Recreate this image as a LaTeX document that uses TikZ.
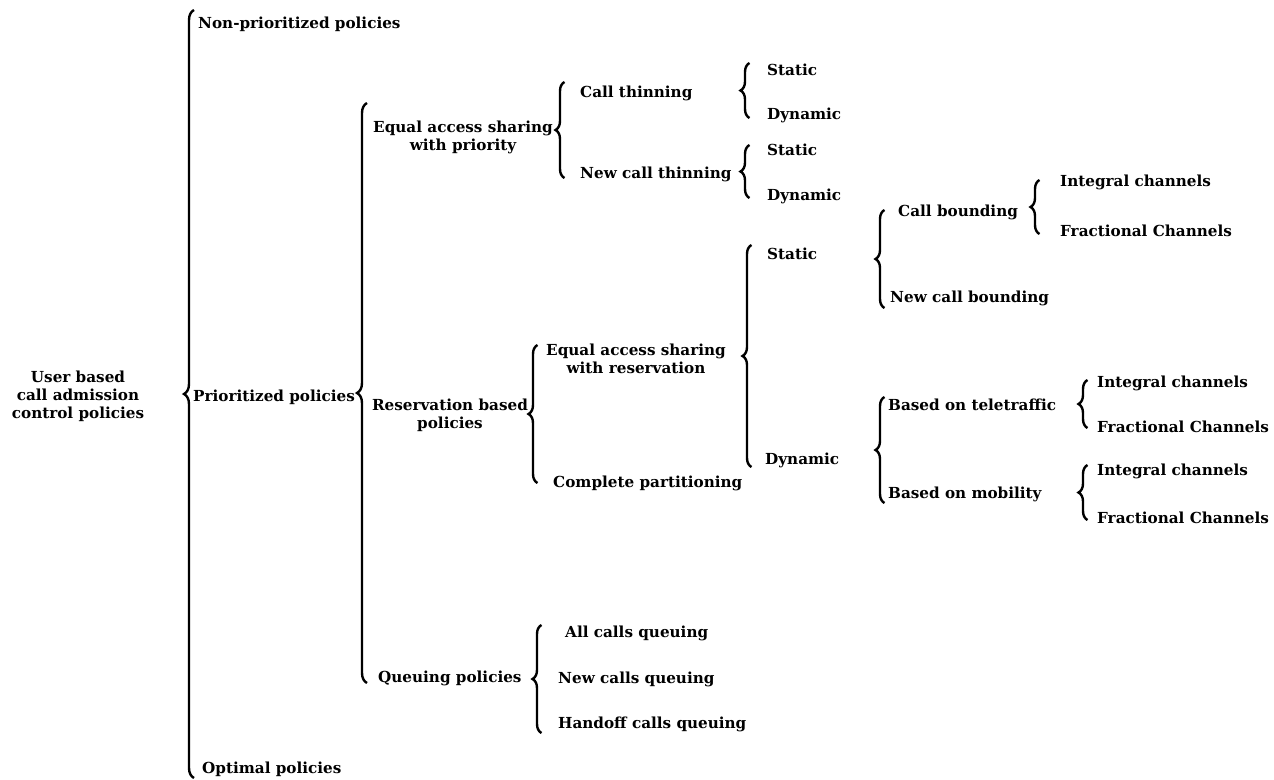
\documentclass[tikz,border=0pt]{standalone}
\usepackage{fontspec}
\setmainfont{DejaVu Serif}
\usetikzlibrary{decorations.pathreplacing}
\tikzset{
  lbl/.style={anchor=mid west, inner sep=0pt, yshift=-3pt, font=\fontsize{15.2}{18}\selectfont\bfseries},
  blk/.style={anchor=center, inner sep=0pt, align=center, yshift=-1.5pt, font=\fontsize{15.2}{18}\selectfont\bfseries},
  brc/.style={decorate, decoration={brace, amplitude=#1}, line width=2.4pt},
  brc/.default=9pt
}
\begin{document}
\begin{tikzpicture}[x=1pt,y=-1pt]
\useasboundingbox (0,0) rectangle (1274,779);
% nodes
\node[blk] (root) at (78,395) {User based\\call admission\\control policies};
\node[lbl] (np) at (198,23) {Non-prioritized policies};
\node[lbl] (pp) at (193,396) {Prioritized policies};
\node[lbl] (op) at (202,768) {Optimal policies};
\node[blk] (easp) at (463,136) {Equal access sharing\\with priority};
\node[blk] (rbp) at (450,414) {Reservation based\\policies};
\node[lbl] (qp) at (378,677) {Queuing policies};
\node[lbl] (ct) at (580,92) {Call thinning};
\node[lbl] (nct) at (580,173) {New call thinning};
\node[lbl] (cts) at (767,70) {Static};
\node[lbl] (ctd) at (767,114) {Dynamic};
\node[lbl] (ncts) at (767,150) {Static};
\node[lbl] (nctd) at (767,195) {Dynamic};
\node[blk] (easr) at (636,357) {Equal access sharing\\with reservation};
\node[lbl] (cp) at (553,482) {Complete partitioning};
\node[lbl] (rs) at (767,254) {Static};
\node[lbl] (rd) at (765,459) {Dynamic};
\node[lbl] (cb) at (898,211) {Call bounding};
\node[lbl] (ncb) at (890,297) {New call bounding};
\node[lbl] (cbi) at (1060,181) {Integral channels};
\node[lbl] (cbf) at (1060,231) {Fractional Channels};
\node[lbl] (tt) at (888,405) {Based on teletraffic};
\node[lbl] (mob) at (888,493) {Based on mobility};
\node[lbl] (tti) at (1097,382) {Integral channels};
\node[lbl] (ttf) at (1097,427) {Fractional Channels};
\node[lbl] (mbi) at (1097,470) {Integral channels};
\node[lbl] (mbf) at (1097,518) {Fractional Channels};
\node[lbl] (aq) at (565,632) {All calls queuing};
\node[lbl] (nq) at (558,678) {New calls queuing};
\node[lbl] (hq) at (558,723) {Handoff calls queuing};
% brace end coordinates (path x = bar x + amplitude/2)
\coordinate (b1t) at (194,10);   \coordinate (b1b) at (194,778);
\coordinate (b2t) at (367,103);  \coordinate (b2b) at (367,683);
\coordinate (b3t) at (564.5,82); \coordinate (b3b) at (564.5,178);
\coordinate (b4t) at (749.5,63); \coordinate (b4b) at (749.5,118);
\coordinate (b5t) at (749.5,145);\coordinate (b5b) at (749.5,198);
\coordinate (b6t) at (537.5,345);\coordinate (b6b) at (537.5,483);
\coordinate (b7t) at (751.5,245);\coordinate (b7b) at (751.5,467);
\coordinate (b8t) at (884.5,210);\coordinate (b8b) at (884.5,308);
\coordinate (b9t) at (1039.5,180);\coordinate (b9b) at (1039.5,234);
\coordinate (b10t) at (884.5,397);\coordinate (b10b) at (884.5,503);
\coordinate (b11t) at (1087.5,380);\coordinate (b11b) at (1087.5,428);
\coordinate (b12t) at (1087.5,465);\coordinate (b12b) at (1087.5,520);
\coordinate (b13t) at (541.5,625);\coordinate (b13b) at (541.5,733);
% braces
\draw[brc=10pt] (b1b) -- (b1t);
\draw[brc=10pt] (b2b) -- (b2t);
\draw[brc] (b3b) -- (b3t);
\draw[brc] (b4b) -- (b4t);
\draw[brc] (b5b) -- (b5t);
\draw[brc] (b6b) -- (b6t);
\draw[brc] (b7b) -- (b7t);
\draw[brc] (b8b) -- (b8t);
\draw[brc] (b9b) -- (b9t);
\draw[brc] (b10b) -- (b10t);
\draw[brc] (b11b) -- (b11t);
\draw[brc] (b12b) -- (b12t);
\draw[brc] (b13b) -- (b13t);
\end{tikzpicture}
\end{document}
